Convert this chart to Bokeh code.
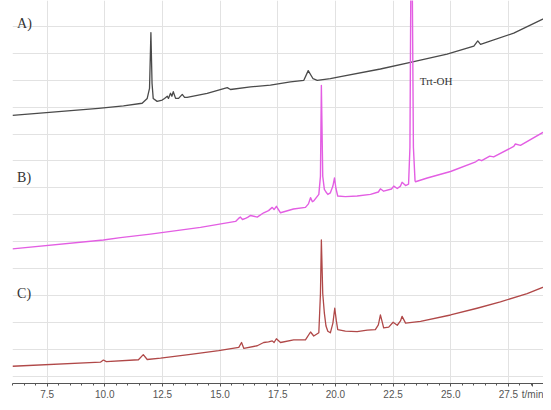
from bokeh.plotting import figure
from bokeh.models import Range1d, FixedTicker, Label
from bokeh.embed import file_html
from bokeh.resources import INLINE

# Retention time (min) and detector signal (a.u., traces stacked)
A_T = [6.00, 9.73, 10.81, 11.62, 11.84, 11.94, 12.00, 12.05, 12.10, 12.27, 12.49, 12.59,
       12.71, 12.76, 12.85, 12.91, 12.97, 13.07, 13.20, 13.36, 13.46, 13.57, 14.44, 15.31,
       15.45, 16.32, 17.18, 18.05, 18.63, 18.82, 19.03, 19.21, 19.78, 20.22, 21.95, 23.25,
       24.84, 26.00, 26.17, 26.29, 27.73, 29.36]
A_V = [9.69, 9.95, 10.04, 10.14, 10.32, 10.69, 12.76, 10.87, 10.32, 10.21, 10.26, 10.32,
       10.40, 10.32, 10.51, 10.40, 10.57, 10.32, 10.32, 10.47, 10.36, 10.36, 10.51, 10.72,
       10.65, 10.75, 10.81, 10.93, 10.99, 11.35, 11.05, 10.99, 11.05, 11.13, 11.41, 11.66,
       11.96, 12.26, 12.45, 12.32, 12.74, 13.41]

B_T = [6.00, 9.94, 10.68, 11.98, 14.15, 15.67, 15.80, 15.88, 15.97, 16.10, 16.19, 16.32,
       16.61, 16.89, 17.10, 17.26, 17.34, 17.44, 17.62, 18.18, 18.70, 18.83, 18.92, 19.00,
       19.06, 19.28, 19.35, 19.39, 19.45, 19.52, 19.59, 19.67, 19.78, 19.89, 19.96, 20.02,
       20.10, 20.43, 20.94, 21.52, 21.86, 21.95, 22.09, 22.43, 22.53, 22.68, 22.82, 22.89,
       23.04, 23.17, 23.23, 23.27, 23.33, 23.38, 23.45, 23.47, 23.98, 24.99, 26.08, 26.22,
       26.34, 26.69, 26.86, 27.73, 27.80, 28.02, 29.36]
B_V = [4.74, 5.07, 5.16, 5.29, 5.54, 5.76, 5.87, 5.92, 5.83, 5.87, 5.91, 5.98,
       5.92, 6.08, 6.16, 6.28, 6.20, 6.32, 6.08, 6.22, 6.28, 6.41, 6.64, 6.49,
       6.52, 6.76, 7.43, 10.80, 7.43, 6.95, 6.85, 6.76, 6.82, 7.07, 7.37, 6.99,
       6.70, 6.68, 6.70, 6.76, 6.85, 6.97, 6.88, 6.96, 7.07, 6.98, 7.07, 7.21,
       7.09, 7.14, 8.51, 14.67, 14.67, 8.51, 7.28, 7.23, 7.37, 7.61, 7.97, 8.05,
       8.01, 8.18, 8.15, 8.54, 8.63, 8.58, 9.24]

C_T = [6.00, 9.81, 9.94, 10.07, 11.46, 11.67, 11.84, 12.42, 13.72, 14.94, 15.81, 15.93,
       16.03, 16.61, 16.89, 17.10, 17.26, 17.34, 17.44, 17.62, 18.19, 18.70, 18.92, 19.06,
       19.28, 19.35, 19.39, 19.45, 19.52, 19.59, 19.67, 19.78, 19.89, 19.97, 20.04, 20.10,
       20.43, 20.94, 21.38, 21.73, 21.86, 21.95, 22.04, 22.09, 22.31, 22.50, 22.68, 22.82,
       22.89, 23.04, 23.69, 24.99, 26.14, 27.15, 28.31, 29.36]
C_V = [0.39, 0.54, 0.62, 0.56, 0.63, 0.82, 0.64, 0.69, 0.83, 0.97, 1.09, 1.27,
       1.05, 1.15, 1.27, 1.29, 1.33, 1.27, 1.41, 1.27, 1.37, 1.37, 1.66, 1.51,
       1.63, 3.08, 5.07, 3.08, 2.36, 1.88, 1.69, 1.63, 1.99, 2.54, 2.07, 1.75,
       1.69, 1.67, 1.73, 1.75, 1.92, 2.29, 1.99, 1.81, 1.84, 2.02, 1.91, 2.07,
       2.24, 1.99, 2.05, 2.29, 2.54, 2.78, 3.08, 3.44]

X_TICKS = [7.5, 10.0, 12.5, 15.0, 17.5, 20.0, 22.5, 25.0, 27.5]
X_TICK_LABELS = ["7.5", "10.0", "12.5", "15.0", "17.5", "20.0", "22.5", "25.0", "27.5"]
X_MINOR = [6.0 + 0.5 * i for i in range(47)]
Y_GRID = list(range(14))
TRACE_LABELS = ["A)", "B)", "C)"]
PEAK_LABEL = "Trt-OH"
X_AXIS_LABEL = "t/min"
X_AXIS_LABEL_AT = 28.55

p = figure(width=543, height=402, output_backend="svg", toolbar_location=None,
           x_range=Range1d(6.0, 29.02), y_range=Range1d(-0.25, 13.95),
           min_border_left=12, min_border_right=0, min_border_top=0, min_border_bottom=0)
p.outline_line_color = None
p.background_fill_color = "white"

p.yaxis.visible = False
p.ygrid.ticker = FixedTicker(ticks=Y_GRID)
p.xaxis.ticker = FixedTicker(ticks=X_TICKS + [X_AXIS_LABEL_AT], minor_ticks=X_MINOR)
p.xgrid.ticker = FixedTicker(ticks=X_TICKS)
p.grid.grid_line_color = "#e2e2e2"
p.grid.grid_line_width = 1

ax = p.xaxis[0]
overrides = {t: l for t, l in zip(X_TICKS, X_TICK_LABELS)}
overrides[X_AXIS_LABEL_AT] = X_AXIS_LABEL
ax.major_label_overrides = overrides
ax.axis_line_color = "#555555"
ax.major_tick_line_color = "#555555"
ax.minor_tick_line_color = "#555555"
ax.major_tick_in = 0
ax.major_tick_out = 3
ax.minor_tick_in = 0
ax.minor_tick_out = 2
ax.major_label_standoff = 2
ax.major_label_text_font = "Liberation Sans"
ax.major_label_text_font_size = "10px"
ax.major_label_text_color = "#555555"

p.line(A_T, A_V, line_color="#4a4a4a", line_width=1.3, line_join="round")
p.line(B_T, B_V, line_color="#e35ee3", line_width=1.4, line_join="round")
p.line(C_T, C_V, line_color="#b04848", line_width=1.3, line_join="round")

for txt, yv in zip(TRACE_LABELS, [13.10, 7.40, 3.10]):
    p.add_layout(Label(x=6.2, y=yv, text=txt, text_font="Liberation Serif",
                       text_font_size="14px", text_color="#333333",
                       text_baseline="middle", text_align="left"))

p.add_layout(Label(x=23.66, y=10.95, text=PEAK_LABEL, text_font="Liberation Serif",
                   text_font_size="11px", text_color="#333333",
                   text_baseline="middle", text_align="left"))

open("out.html", "w").write(file_html(p, INLINE))
